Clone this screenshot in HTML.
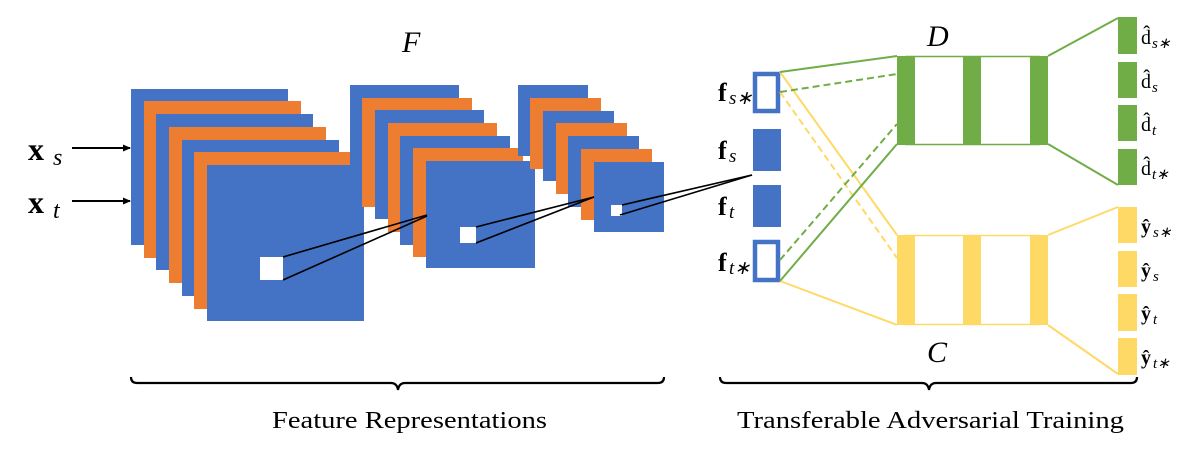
<!DOCTYPE html>
<html><head><meta charset="utf-8"><style>html,body{margin:0;padding:0;background:#fff}svg{display:block}svg text{font-family:"Liberation Serif",serif}</style></head>
<body>
<svg width="1196" height="450" viewBox="0 0 1196 450" xmlns="http://www.w3.org/2000/svg">
<defs><marker id="ah" markerWidth="8" markerHeight="8" refX="7" refY="4" orient="auto" markerUnits="userSpaceOnUse"><path d="M0,0.5 L8,4 L0,7.5 z" fill="#000"/></marker></defs>
<g>
<rect x="131" y="89" width="157" height="156" fill="#4472C4"/>
<rect x="144" y="101" width="157" height="157" fill="#ED7D31"/>
<rect x="156" y="114" width="157" height="156" fill="#4472C4"/>
<rect x="169" y="127" width="157" height="156" fill="#ED7D31"/>
<rect x="182" y="140" width="157" height="156" fill="#4472C4"/>
<rect x="194" y="152" width="157" height="157" fill="#ED7D31"/>
<rect x="207" y="165" width="157" height="156" fill="#4472C4"/>
<rect x="260" y="257" width="23" height="23" fill="#fff"/>
</g>
<g>
<rect x="350" y="85" width="109" height="107" fill="#4472C4"/>
<rect x="362" y="98" width="110" height="109" fill="#ED7D31"/>
<rect x="375" y="110" width="109" height="109" fill="#4472C4"/>
<rect x="388" y="123" width="109" height="109" fill="#ED7D31"/>
<rect x="400" y="136" width="110" height="109" fill="#4472C4"/>
<rect x="413" y="148" width="110" height="109" fill="#ED7D31"/>
<rect x="426" y="161" width="109" height="107" fill="#4472C4"/>
<rect x="460" y="227" width="16" height="16" fill="#fff"/>
</g>
<g>
<rect x="518" y="85" width="70" height="71" fill="#4472C4"/>
<rect x="530" y="98" width="71" height="71" fill="#ED7D31"/>
<rect x="543" y="111" width="71" height="70" fill="#4472C4"/>
<rect x="556" y="123" width="71" height="71" fill="#ED7D31"/>
<rect x="568" y="136" width="71" height="71" fill="#4472C4"/>
<rect x="581" y="149" width="71" height="71" fill="#ED7D31"/>
<rect x="594" y="162" width="70" height="70" fill="#4472C4"/>
<rect x="611" y="205" width="11" height="11" fill="#fff"/>
</g>
<g stroke="#000" stroke-width="1.6" fill="none">
<line x1="283" y1="257" x2="427" y2="215"/>
<line x1="283" y1="280" x2="427" y2="216"/>
<line x1="476" y1="227" x2="594" y2="197"/>
<line x1="476" y1="243" x2="594" y2="197"/>
<line x1="622" y1="205" x2="752" y2="175"/>
<line x1="620" y1="215" x2="752" y2="175"/>
<line x1="72" y1="148" x2="130" y2="148" stroke-width="2" marker-end="url(#ah)"/>
<line x1="72" y1="201" x2="130" y2="201" stroke-width="2" marker-end="url(#ah)"/>
</g>
<text x="28" y="160" font-size="32" font-weight="bold">x</text><text x="53" y="165" font-size="24" font-style="italic">s</text>
<text x="28" y="213" font-size="32" font-weight="bold">x</text><text x="53" y="218" font-size="24" font-style="italic">t</text>
<text x="402" y="52" font-size="30" font-style="italic">F</text>
<rect x="755" y="74" width="23" height="37" fill="none" stroke="#4472C4" stroke-width="4.5"/>
<rect x="753" y="129" width="28" height="42" fill="#4472C4"/>
<rect x="753" y="185" width="28" height="42" fill="#4472C4"/>
<rect x="755" y="242" width="23" height="38" fill="none" stroke="#4472C4" stroke-width="4.5"/>
<g font-size="26" font-weight="bold">
<text x="718" y="101">f</text><text x="718" y="159">f</text><text x="718" y="215">f</text><text x="718" y="271">f</text>
</g>
<g font-size="19" font-style="italic">
<text x="729" y="104">s∗</text><text x="729" y="162">s</text><text x="729" y="218">t</text><text x="729" y="274">t∗</text>
</g>
<g stroke-width="2" fill="none">
<line x1="780" y1="72" x2="897" y2="235" stroke="#FFD966"/>
<line x1="780" y1="92" x2="897" y2="258" stroke="#FFD966" stroke-dasharray="7,4"/>
<line x1="780" y1="281" x2="897" y2="325" stroke="#FFD966"/>
<line x1="780" y1="72" x2="897" y2="56" stroke="#70AD47"/>
<line x1="780" y1="92" x2="897" y2="74" stroke="#70AD47" stroke-dasharray="7,4"/>
<line x1="780" y1="260" x2="897" y2="124" stroke="#70AD47" stroke-dasharray="7,4"/>
<line x1="780" y1="281" x2="897" y2="144" stroke="#70AD47"/>
<line x1="1048" y1="56" x2="1118" y2="18" stroke="#70AD47"/>
<line x1="1048" y1="144" x2="1118" y2="185" stroke="#70AD47"/>
<line x1="1048" y1="235" x2="1118" y2="207" stroke="#FFD966"/>
<line x1="1048" y1="325" x2="1118" y2="374" stroke="#FFD966"/>
<rect x="906" y="56.5" width="133" height="88" stroke="#70AD47" stroke-width="1.5"/>
<rect x="906" y="235.5" width="133" height="89" stroke="#FFD966" stroke-width="1.5"/>
</g>
<g fill="#70AD47">
<rect x="897" y="56" width="18" height="89"/><rect x="963" y="56" width="18" height="89"/><rect x="1030" y="56" width="18" height="89"/>
<rect x="1118" y="17" width="19" height="37"/><rect x="1118" y="62" width="19" height="36"/><rect x="1118" y="105" width="19" height="36"/><rect x="1118" y="149" width="19" height="36"/>
</g>
<g fill="#FFD966">
<rect x="897" y="235" width="18" height="90"/><rect x="963" y="235" width="18" height="90"/><rect x="1030" y="235" width="18" height="90"/>
<rect x="1118" y="207" width="19" height="36"/><rect x="1118" y="251" width="19" height="36"/><rect x="1118" y="294" width="19" height="37"/><rect x="1118" y="338" width="19" height="37"/>
</g>
<text x="927" y="46" font-size="30" font-style="italic">D</text>
<text x="927" y="362" font-size="30" font-style="italic">C</text>
<g font-size="20">
<text x="1141" y="44">d̂</text><text x="1141" y="88">d̂</text><text x="1141" y="131">d̂</text><text x="1141" y="175">d̂</text>
<text x="1141" y="233" font-weight="bold">ŷ</text><text x="1141" y="277" font-weight="bold">ŷ</text><text x="1141" y="320" font-weight="bold">ŷ</text><text x="1141" y="364" font-weight="bold">ŷ</text>
</g>
<g font-size="15" font-style="italic">
<text x="1152" y="48">s∗</text><text x="1152" y="92">s</text><text x="1152" y="135">t</text><text x="1152" y="179">t∗</text>
<text x="1153" y="237">s∗</text><text x="1153" y="281">s</text><text x="1153" y="324">t</text><text x="1153" y="368">t∗</text>
</g>
<g stroke="#000" stroke-width="2.2" fill="none">
<path d="M131,377 Q131,383 137,383 L391,383 Q397,383 398,390 Q399,383 405,383 L658,383 Q664,383 664,377"/>
<path d="M720,377 Q720,383 726,383 L922,383 Q928,383 929,390 Q930,383 936,383 L1131,383 Q1137,383 1137,377"/>
</g>
<text x="272" y="428" font-size="24" textLength="275" lengthAdjust="spacingAndGlyphs">Feature Representations</text>
<text x="737" y="428" font-size="24" textLength="387" lengthAdjust="spacingAndGlyphs">Transferable Adversarial Training</text>
</svg>
</body></html>
